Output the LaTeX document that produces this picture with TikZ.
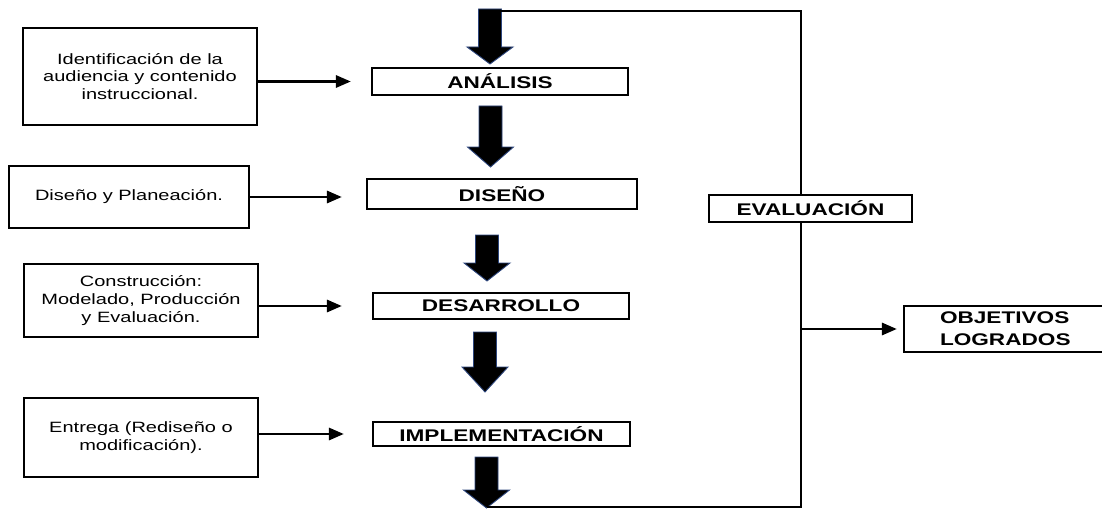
\documentclass[tikz,border=0pt]{standalone}
\usepackage{fontspec}
\setmainfont{Liberation Sans}[FakeStretch=1.34]
\usetikzlibrary{arrows.meta}
\newlength{\upx}
\setlength{\upx}{0.02cm}
\definecolor{bordeazul}{RGB}{45,70,125}
% flecha gruesa: x, arriba, inicio punta, punta
\newcommand{\flechagorda}[4]{%
  \filldraw[fill=black,draw=bordeazul,line width=0.5pt] (#1-11.5,#2) -- (#1+11.5,#2) -- (#1+11.5,#3) -- (#1+23,#3) -- (#1,#4) -- (#1-23,#3) -- (#1-11.5,#3) -- cycle;}
\begin{document}
\begin{tikzpicture}[x=0.02cm,y=-0.02cm,
	caja/.style={draw,line width=1.5pt,inner sep=0pt,align=center,font=\fontsize{8.5}{10.2}\selectfont},
	etapa/.style={draw,line width=1.4pt,fill=white,inner sep=0pt,font=\fontsize{9.6}{11}\selectfont\bfseries},
	flecha/.style={line width=1.3pt,-{Triangle[length=8.5pt,width=7pt]}},
	linea/.style={line width=1.3pt}]
	\useasboundingbox (0,0) rectangle (1102,510);
	% cajas de la izquierda
	\node[caja,minimum width=234\upx,minimum height=97\upx] (ident) at (140,76.5) {Identificación de la\\audiencia y contenido\\instruccional.};
	\node[caja,minimum width=240\upx,minimum height=62\upx] (planea) at (129,197) {Diseño y Planeación.};
	\node[caja,minimum width=234\upx,minimum height=73\upx] (constr) at (141,300.5) {Construcción:\\Modelado, Producción\\y Evaluación.};
	\node[caja,minimum width=234\upx,minimum height=79\upx] (entrega) at (141,437.5) {Entrega (Rediseño o\\modificación).};
	% etapas
	\node[etapa,minimum width=256\upx,minimum height=27\upx] (analisis) at (500,81.5) {ANÁLISIS};
	\node[etapa,minimum width=270\upx,minimum height=30\upx] (diseno) at (502,194) {DISEÑO};
	\node[etapa,minimum width=256\upx,minimum height=26\upx] (desarrollo) at (501,306) {DESARROLLO};
	\node[etapa,minimum width=257\upx,minimum height=24\upx] (implem) at (501.5,434) {IMPLEMENTACIÓN};
	\draw[flecha,shorten >=20\upx] (ident.east |- analisis) -- (analisis.west);
	\draw[flecha,shorten >=24\upx] (planea.east) -- (planea.east -| diseno.west);
	\draw[flecha,shorten >=30\upx] (constr.east |- desarrollo) -- (desarrollo.west);
	\draw[flecha,shorten >=28\upx] (entrega.east |- implem) -- (implem.west);
	\flechagorda{490}{9}{47}{64}
	\flechagorda{490.5}{106}{147}{167}
	\flechagorda{487}{235}{263}{281}
	\flechagorda{485}{332}{367}{392}
	\flechagorda{486.5}{457}{490}{508}
	% lazo de evaluacion
	\coordinate (salida) at (486.5,507);
	\coordinate (entrada) at (501,11);
	\coordinate (rama) at (801,329);
	\draw[linea] (salida) -| (801,11) -- (entrada);
	\node[etapa,minimum width=203\upx,minimum height=27\upx] (evaluacion) at (810.5,208.5) {EVALUACIÓN};
	\node[etapa,fill=none,align=left,text width=136\upx,inner xsep=36\upx,minimum height=46\upx,font=\fontsize{9.6}{12.4}\selectfont\bfseries] (objetivos) at (1008,329) {OBJETIVOS\\LOGRADOS};
	\draw[flecha,shorten >=6\upx] (rama) -- (objetivos.west);
\end{tikzpicture}
\end{document}
